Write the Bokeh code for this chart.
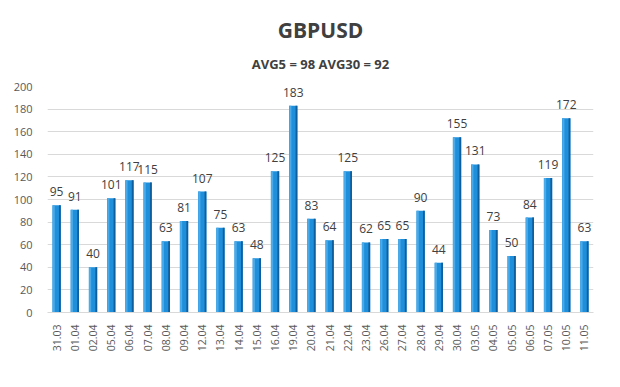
from bokeh.plotting import figure
from bokeh.models import Title, ColumnDataSource, FactorRange, Range1d, LabelSet
from bokeh.core.properties import value
from bokeh.transform import dodge
from bokeh.embed import file_html
from bokeh.resources import INLINE
import math

dates = ["31.03", "01.04", "02.04", "05.04", "06.04", "07.04", "08.04", "09.04",
         "12.04", "13.04", "14.04", "15.04", "16.04", "19.04", "20.04", "21.04",
         "22.04", "23.04", "26.04", "27.04", "28.04", "29.04", "30.04", "03.05",
         "04.05", "05.05", "06.05", "07.05", "10.05", "11.05"]
values = [95, 91, 40, 101, 117, 115, 63, 81, 107, 75, 63, 48, 125, 183, 83, 64,
          125, 62, 65, 65, 90, 44, 155, 131, 73, 50, 84, 119, 172, 63]
y_ticks = list(range(0, 201, 20))
title_text = "GBPUSD"
subtitle_text = "AVG5 = 98 AVG30 = 92"

src = ColumnDataSource(dict(x=dates, y=values, lbl=[str(v) for v in values]))

p = figure(width=604, height=371, x_range=FactorRange(*dates, range_padding=0),
           y_range=Range1d(0, 200), output_backend="svg", toolbar_location=None,
           min_border_left=47, min_border_right=11, min_border_bottom=59,
           min_border_top=0)
p.title.text = ""
p.title.visible = False

sub = Title(text=subtitle_text, align="center", text_font="Open Sans",
            text_font_size="13px", text_font_style="bold", text_color="#404040",
            standoff=27)
main = Title(text=title_text, align="center", text_font="Open Sans",
             text_font_size="21px", text_font_style="bold", text_color="#404040",
             standoff=-9)
spacer = Title(text=" ", align="center", text_font_size="10px", standoff=5)
p.add_layout(sub, "above")
p.add_layout(main, "above")
p.add_layout(spacer, "above")

# bar faces: front, dark side, light edge
p.vbar(x=dodge("x", 0.0, range=p.x_range), top="y", width=0.46, source=src,
       fill_color="#1f8fdb", line_color=None)
p.vbar(x=dodge("x", 0.18, range=p.x_range), top="y", width=0.1, source=src,
       fill_color="#0f5f9e", line_color=None)
p.vbar(x=dodge("x", -0.16, range=p.x_range), top="y", width=0.12, source=src,
       fill_color="#4aaaea", line_color=None)

labels = LabelSet(x="x", y="y", text="lbl", source=src, text_align="center",
                  text_baseline="bottom", y_offset=9, text_font=value("Open Sans"),
                  text_font_size="12px", text_color="#404040")
p.add_layout(labels)

p.yaxis.ticker = y_ticks
p.yaxis.axis_line_color = None
p.yaxis.major_tick_line_color = None
p.yaxis.minor_tick_line_color = None
p.yaxis.major_label_text_font = "Open Sans"
p.yaxis.major_label_text_font_size = "11px"
p.yaxis.major_label_text_color = "#595959"
p.yaxis.major_label_standoff = 9

p.xaxis.axis_line_color = "#d9d9d9"
p.xaxis.major_tick_line_color = None
p.xaxis.minor_tick_line_color = None
p.xaxis.major_label_orientation = math.pi / 2
p.xaxis.major_label_text_font = "Open Sans"
p.xaxis.major_label_text_font_size = "10.5px"
p.xaxis.major_label_text_color = "#595959"
p.xaxis.major_label_standoff = 6

p.xgrid.grid_line_color = None
p.ygrid.grid_line_color = "#d9d9d9"
p.outline_line_color = None
p.background_fill_color = "white"
p.border_fill_color = "white"

open("out.html", "w").write(file_html(p, INLINE))
